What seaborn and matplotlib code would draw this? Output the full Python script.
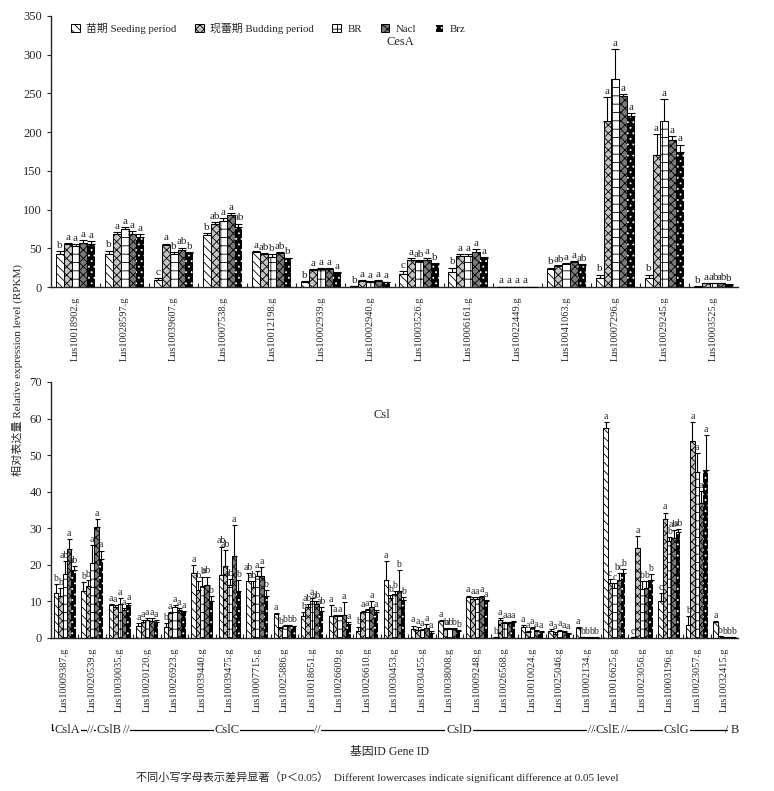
import numpy as np
import pandas as pd
import seaborn as sns
import matplotlib.pyplot as plt
import matplotlib.transforms as mtransforms
from matplotlib.patches import Patch

sns.set_style('ticks')
plt.rcParams['font.family'] = ['Liberation Serif', 'Noto Sans CJK SC']
plt.rcParams['hatch.linewidth'] = 0.6
plt.rcParams['axes.linewidth'] = 1.0

# === Data ===
treatments = ['苗期 Seeding period', '现蕾期 Budding period', 'BR', 'Nacl', 'Brz']

cesa_genes = ['Lus10018902.g', 'Lus10028597.g', 'Lus10039607.g', 'Lus10007538.g',
              'Lus10012198.g', 'Lus10002939.g', 'Lus10002940.g', 'Lus10003526.g',
              'Lus10006161.g', 'Lus10022449.g', 'Lus10041063.g', 'Lus10007296.g',
              'Lus10029245.g', 'Lus10003525.g']
cesa_seeding = [43, 42, 9, 67, 45, 6, 1, 17, 19, 0.5, 23, 12, 12, 0.5]
cesa_budding = [55, 68, 54, 82, 43, 22, 8, 35, 40, 0.5, 27, 214, 171, 5]
cesa_br = [53, 75, 43, 85, 39, 23, 7, 34, 40, 0.5, 30, 269, 214, 5]
cesa_nacl = [57, 68, 48, 93, 44, 23, 8, 35, 45, 0.5, 32, 247, 190, 5]
cesa_brz = [55, 64, 44, 78, 37, 18, 6, 30, 37, 0.5, 29, 221, 175, 3]
cesa_seeding_err = [3, 5, 2, 3, 1, 2, 0.5, 4, 6, 0.1, 2, 4, 4, 0.2]
cesa_budding_err = [2, 3, 2, 2, 1, 1, 1, 2, 2, 0.1, 1, 31, 26, 0.5]
cesa_br_err = [2, 2, 2, 4, 3, 1, 1, 1, 3, 0.1, 1, 38, 29, 0.5]
cesa_nacl_err = [4, 4, 3, 3, 1, 1, 1, 3, 4, 0.1, 2, 2, 5, 0.5]
cesa_brz_err = [4, 4, 1, 4, 1, 1, 1, 1, 2, 0.1, 1, 4, 9, 0.3]
cesa_seeding_sig = ['b', 'b', 'c', 'b', 'a', 'b', 'b', 'c', 'b', 'a', 'b', 'b', 'b', 'b']
cesa_budding_sig = ['a', 'a', 'a', 'ab', 'ab', 'a', 'a', 'a', 'a', 'a', 'ab', 'a', 'a', 'a']
cesa_br_sig = ['a', 'a', 'b', 'a', 'b', 'a', 'a', 'ab', 'a', 'a', 'a', 'a', 'a', 'ab']
cesa_nacl_sig = ['a', 'a', 'ab', 'a', 'ab', 'a', 'a', 'a', 'a', 'a', 'a', 'a', 'a', 'ab']
cesa_brz_sig = ['a', 'a', 'b', 'ab', 'b', 'a', 'a', 'b', 'a', '', 'ab', 'a', 'a', 'b']

csl_genes = ['Lus10009387.g', 'Lus10020539.g', 'Lus10030035.g', 'Lus10020120.g',
             'Lus10026923.g', 'Lus10039440.g', 'Lus10039475.g', 'Lus10007715.g',
             'Lus10025886.g', 'Lus10018651.g', 'Lus10026609.g', 'Lus10026610.g',
             'Lus10030453.g', 'Lus10030455.g', 'Lus10038008.g', 'Lus10009248.g',
             'Lus10026568.g', 'Lus10010024.g', 'Lus10025046.g', 'Lus10002134.g',
             'Lus10016625.g', 'Lus10023056.g', 'Lus10003196.g', 'Lus10023057.g',
             'Lus10032415.g']
csl_seeding = [12.3, 12.9, 9.1, 3.2, 3.0, 17.7, 17.3, 15.5, 6.5, 6.0, 5.9, 2.0, 15.8,
               2.4, 4.6, 11.2, 0.2, 3.0, 1.9, 2.6, 57.5, 0.2, 10.2, 3.6, 4.4]
csl_budding = [11.4, 14.3, 8.5, 4.3, 6.8, 13.0, 19.8, 14.0, 2.7, 8.4, 5.9, 7.2, 10.9,
               2.1, 2.4, 10.8, 4.9, 1.7, 1.2, 0.2, 15.0, 24.7, 32.5, 53.9, 0.5]
csl_br = [17.5, 20.5, 9.4, 4.8, 8.4, 14.2, 14.5, 17.0, 3.3, 10.2, 5.9, 7.6, 12.0,
          2.1, 2.5, 10.8, 4.2, 2.6, 1.9, 0.1, 13.6, 13.5, 26.5, 45.5, 0.3]
csl_nacl = [24.4, 30.3, 7.7, 4.7, 7.7, 14.5, 22.5, 17.0, 3.3, 9.3, 6.3, 8.6, 12.8,
            2.6, 2.4, 11.2, 4.2, 1.9, 1.7, 0.1, 15.9, 13.8, 27.3, 36.8, 0.2]
csl_brz = [18.6, 21.6, 9.1, 4.3, 7.0, 10.2, 12.9, 11.4, 3.2, 7.3, 3.7, 7.2, 10.4,
           1.5, 1.9, 10.1, 4.4, 1.7, 1.2, 0.1, 17.9, 15.8, 29.1, 46.0, 0.1]
csl_seeding_err = [2.5, 2.4, 0.3, 1.0, 1.0, 2.2, 7.7, 2.2, 0.3, 1.1, 3.2, 0.9, 5.2,
                   1.0, 0.3, 0.4, 0.1, 0.5, 0.5, 0.3, 1.6, 0.1, 2.1, 2.5, 0.3]
csl_budding_err = [2.3, 1.5, 0.4, 0.6, 0.4, 2.5, 4.2, 1.5, 0.3, 0.9, 0.4, 0.3, 0.8,
                   0.8, 0.3, 0.4, 0.5, 0.3, 0.4, 0.05, 1.2, 3.2, 1.8, 5.2, 0.1]
csl_br_err = [3.6, 5.0, 1.6, 0.6, 0.6, 2.4, 1.5, 1.2, 0.3, 0.8, 0.4, 0.4, 0.8,
              0.3, 0.3, 0.4, 0.3, 0.5, 0.4, 0.05, 1.4, 2.0, 1.0, 5.0, 0.05]
csl_nacl_err = [2.6, 2.2, 0.4, 0.8, 0.4, 2.3, 8.3, 2.5, 0.3, 0.9, 3.6, 1.4, 5.8,
                1.3, 0.3, 0.4, 0.3, 0.3, 0.3, 0.05, 1.8, 1.8, 2.2, 3.4, 0.05]
csl_brz_err = [1.0, 2.3, 0.4, 0.6, 0.4, 1.2, 3.0, 1.8, 0.2, 1.1, 0.7, 0.4, 0.8,
               0.4, 0.3, 0.4, 0.3, 0.3, 0.3, 0.05, 1.0, 1.8, 0.7, 9.5, 0.05]
csl_seeding_sig = ['b', 'b', 'a', 'a', 'b', 'a', 'ab', 'ab', 'a', 'b', 'a', 'b', 'a',
                   'a', 'a', 'a', 'b', 'a', 'a', 'a', 'a', 'c', 'c', 'b', 'a']
csl_budding_sig = ['b', 'b', 'a', 'a', 'a', 'ab', 'ab', 'ab', 'b', 'ab', 'a', 'a', 'b',
                   'a', 'b', 'a', 'a', 'a', 'a', 'b', 'c', 'a', 'a', 'a', 'b']
csl_br_sig = ['ab', 'a', 'a', 'a', 'a', 'b', 'ab', 'a', 'b', 'a', 'a', 'a', 'b',
              'a', 'ab', 'a', 'a', 'a', 'a', 'b', 'c', 'b', 'b', 'a', 'b']
csl_nacl_sig = ['a', 'a', 'a', 'a', 'a', 'ab', 'a', 'a', 'b', 'ab', 'a', 'a', 'b',
                'a', 'b', 'a', 'a', 'a', 'a', 'b', 'bc', 'b', 'ab', 'a', 'b']
csl_brz_sig = ['ab', 'a', 'a', 'a', 'a', 'b', 'b', 'b', 'b', 'ab', 'a', 'a', 'b',
               'a', 'b', 'a', 'a', 'a', 'a', 'b', 'b', 'b', 'ab', 'a', 'b']

# gene families under the Csl panel
families = ['CslA', 'CslB', 'CslC', 'CslD', 'CslE', 'CslG', 'B']
family_centers = [0.1, 1.62, 5.9, 14.35, 19.75, 22.25, 24.4]
family_breaks = [0.92, 2.25, 9.2, 19.15, 20.35]

# === Styles ===
bar_face = ['white', '#c4c4c4', 'white', '#7a7a7a', 'black']
bar_hatch = ['\\\\\\\\', 'xxxx', '++', 'xxxx', '...']
bar_edge = ['black', 'black', 'black', 'black', 'white']


def draw_panel(ax, genes, values, errs, sigs, ymax, step, letter_pad, letter_size, capsize):
    df = pd.DataFrame({
        'gene': np.repeat([genes], len(treatments), axis=0).ravel(),
        'treatment': np.repeat(treatments, len(genes)),
        'value': np.concatenate(values),
    })
    sns.barplot(data=df, x='gene', y='value', hue='treatment', order=genes,
                hue_order=treatments, errorbar=None, width=0.8, legend=False, ax=ax)
    bar_groups = list(ax.containers)
    for i, cont in enumerate(bar_groups):
        xs = []
        for bar in cont:
            bar.set_facecolor(bar_face[i])
            bar.set_edgecolor(bar_edge[i])
            bar.set_hatch(bar_hatch[i])
            bar.set_linewidth(0 if i == 4 else 0.7)
            xs.append(bar.get_x() + bar.get_width() / 2)
        v = np.array(values[i])
        e = np.array(errs[i])
        ax.errorbar(xs, v, yerr=[np.zeros_like(e), e], fmt='none', ecolor='black',
                    elinewidth=0.8, capsize=capsize, capthick=0.8, zorder=5)
        for x, top, lab in zip(xs, v + e, sigs[i]):
            ax.text(x, top + letter_pad, lab, ha='center', va='bottom',
                    fontsize=letter_size, zorder=6)
    n = len(genes)
    ax.set_xlim(-0.5, n - 0.5)
    ax.set_ylim(0, ymax)
    ax.set_yticks(np.arange(0, ymax + 1, step))
    ax.set_xticks(range(n))
    ax.set_xticklabels(genes, rotation=90, fontsize=7.5)
    ax.set_xticks(np.arange(n - 1) + 0.5, minor=True)
    ax.tick_params(axis='x', which='major', length=0, pad=7)
    ax.tick_params(axis='x', which='minor', length=3, direction='in', width=0.8)
    ax.tick_params(axis='y', which='major', length=3, direction='out', labelsize=9)
    ax.set_xlabel('')
    ax.set_ylabel('')
    sns.despine(ax=ax)


fig = plt.figure(figsize=(7.74, 7.91), dpi=100)
ax1 = fig.add_axes([51 / 774, 1 - 287 / 791, 687 / 774, 271 / 791])
ax2 = fig.add_axes([51 / 774, 1 - 638 / 791, 687 / 774, 256 / 791])

draw_panel(ax1, cesa_genes,
           [cesa_seeding, cesa_budding, cesa_br, cesa_nacl, cesa_brz],
           [cesa_seeding_err, cesa_budding_err, cesa_br_err, cesa_nacl_err, cesa_brz_err],
           [cesa_seeding_sig, cesa_budding_sig, cesa_br_sig, cesa_nacl_sig, cesa_brz_sig],
           350, 50, 1.5, 8, 3)
draw_panel(ax2, csl_genes,
           [csl_seeding, csl_budding, csl_br, csl_nacl, csl_brz],
           [csl_seeding_err, csl_budding_err, csl_br_err, csl_nacl_err, csl_brz_err],
           [csl_seeding_sig, csl_budding_sig, csl_br_sig, csl_nacl_sig, csl_brz_sig],
           70, 10, 0.3, 7, 1.8)

ax1.text(0.508, 0.904, 'CesA', transform=ax1.transAxes, ha='center', va='center', fontsize=9)
ax2.text(0.482, 0.871, 'Csl', transform=ax2.transAxes, ha='center', va='center', fontsize=9)

# legend
handles = [Patch(facecolor=bar_face[i], edgecolor='black' if i < 4 else 'white',
                 hatch=bar_hatch[i], linewidth=0.7) for i in range(5)]
ax1.legend(handles, treatments, ncol=5, loc='upper left', bbox_to_anchor=(0.015, 1.01),
           frameon=False, fontsize=7.8, handlelength=0.8, handleheight=0.8,
           handletextpad=0.6, columnspacing=1.7)

# family brackets
trans = mtransforms.blended_transform_factory(ax2.transData, ax2.transAxes)
yb = -0.36
ax2.plot([-0.45, 24.1], [yb, yb], color='black', lw=0.9, transform=trans, clip_on=False)
ax2.plot([-0.45, -0.45], [yb, yb + 0.025], color='black', lw=0.9, transform=trans, clip_on=False)
for name, cx in zip(families, family_centers):
    ax2.text(cx, yb, name, transform=trans, ha='center', va='center', fontsize=9,
             bbox=dict(facecolor='white', edgecolor='none', pad=0.5))
for bx in family_breaks:
    ax2.text(bx, yb, '//', transform=trans, ha='center', va='center', fontsize=8.5,
             bbox=dict(facecolor='white', edgecolor='none', pad=0.2))
ax2.text(24.1, yb, '/', transform=trans, ha='center', va='center', fontsize=8.5)

fig.text(390 / 774, 1 - 752 / 791, '基因ID Gene ID', ha='center', va='center', fontsize=8.5)
fig.text(377 / 774, 1 - 777 / 791,
         '不同小写字母表示差异显著（P＜0.05）  Different lowercases indicate significant difference at 0.05 level',
         ha='center', va='center', fontsize=8)
fig.text(17 / 774, 1 - 370 / 791, '相对表达量 Relative expression level (RPKM)',
         rotation=90, ha='center', va='center', fontsize=8)

fig.savefig('out.png', dpi=100)
